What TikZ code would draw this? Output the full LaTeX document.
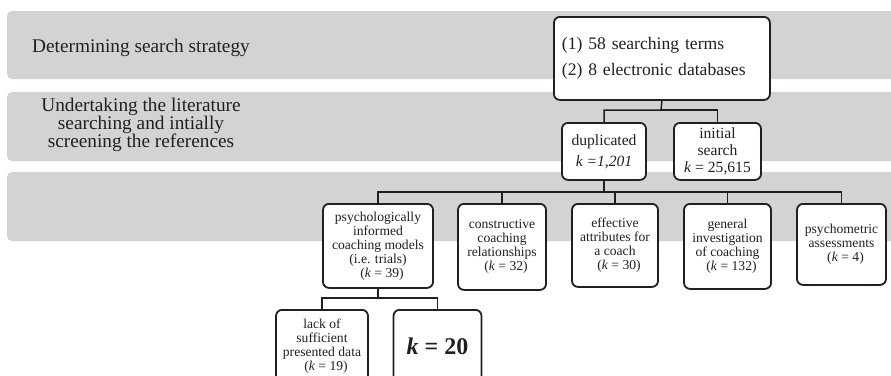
\documentclass[tikz,border=0pt]{standalone}
\usepackage{fontspec}
\setmainfont{Liberation Serif}
\definecolor{bandgray}{HTML}{D1D3D4}
\definecolor{ink}{HTML}{231F20}
\newcommand{\kline}[1]{\hspace*{8pt}(\textit{k} = #1)}
\begin{document}
\begin{tikzpicture}[x=1pt,y=-1pt,
  band/.style={fill=bandgray, rounded corners=5pt},
  box/.style={draw=ink, line width=1.8pt, fill=white, rounded corners=6pt, inner sep=2pt, align=center, text=ink, font=\fontsize{13.6}{14}\selectfont},
  link/.style={draw=ink, line width=1.5pt},
  lbl/.style={text=ink, align=center, font=\fontsize{19.3}{18}\selectfont}
]
\useasboundingbox (0,0) rectangle (891,375);
\clip (0,0) rectangle (891,375);
\fill[white] (0,0) rectangle (891,375);
\fill[band] (7,11) rectangle (905,79);
\fill[band] (7,92) rectangle (905,161);
\fill[band] (7,172) rectangle (905,241);

\node[lbl, anchor=base] (l1) at (141,52) {Determining search strategy};
\node[lbl] (l2) at (141,124.5) {Undertaking the literature\\searching and intially\\screening the references};

\node[box, anchor=north west, minimum width=216pt, minimum height=83pt, text width=200pt, inner xsep=8pt, align=left, font=\fontsize{17.6}{26}\selectfont] (top) at (553,16) {(1) 58 searching terms\\(2) 8 electronic databases};

\node[box, anchor=north, minimum width=84pt, minimum height=57pt, font=\fontsize{15.6}{21}\selectfont] (dup) at (604,122) {duplicated\\\textit{k =1,201}};
\node[box, anchor=north, minimum width=87pt, minimum height=57pt, font=\fontsize{15.6}{17}\selectfont] (init) at (717.5,122) {initial\\search\\\textit{k} = 25,615};

\node[box, anchor=north, minimum width=110pt, minimum height=84pt] (psych) at (378,203) {psychologically\\informed\\coaching models\\(i.e. trials)\\\kline{39}};
\node[box, anchor=north, minimum width=88pt, minimum height=86pt] (constr) at (502,203) {constructive\\coaching\\relationships\\\kline{32}};
\node[box, anchor=north, minimum width=86pt, minimum height=83pt] (eff) at (615,203) {effective\\attributes for\\a coach\\\kline{30}};
\node[box, anchor=north, minimum width=87pt, minimum height=85pt] (gen) at (727.5,203) {general\\investigation\\of coaching\\\kline{132}};
\node[box, anchor=north, minimum width=89pt, minimum height=81pt] (psm) at (841.5,203) {psychometric\\assessments\\\kline{4}};

\node[box, anchor=north, minimum width=92pt, minimum height=72pt] (lack) at (322,309) {lack of\\sufficient\\presented data\\\kline{19}};
\node[box, anchor=north, minimum width=88pt, minimum height=72pt, font=\fontsize{24}{26}\selectfont\bfseries] (k20) at (437.5,309) {\textit{k} = 20};

\coordinate (j1) at (661,110);
\coordinate (j2) at (604,192);
\coordinate (j3) at (378,298);
\draw[link] (top.south) -- (j1) -| (dup.north);
\draw[link] (j1) -| (init.north);
\draw[link] (dup.south) -- (j2);
\draw[link] (j2) -| (psych.north);
\draw[link] (j2) -| (constr.north);
\draw[link] (j2) -| (eff.north);
\draw[link] (j2) -| (gen.north);
\draw[link] (j2) -| (psm.north);
\draw[link] (psych.south) -- (j3);
\draw[link] (j3) -| (lack.north);
\draw[link] (j3) -| (k20.north);
\end{tikzpicture}
\end{document}
